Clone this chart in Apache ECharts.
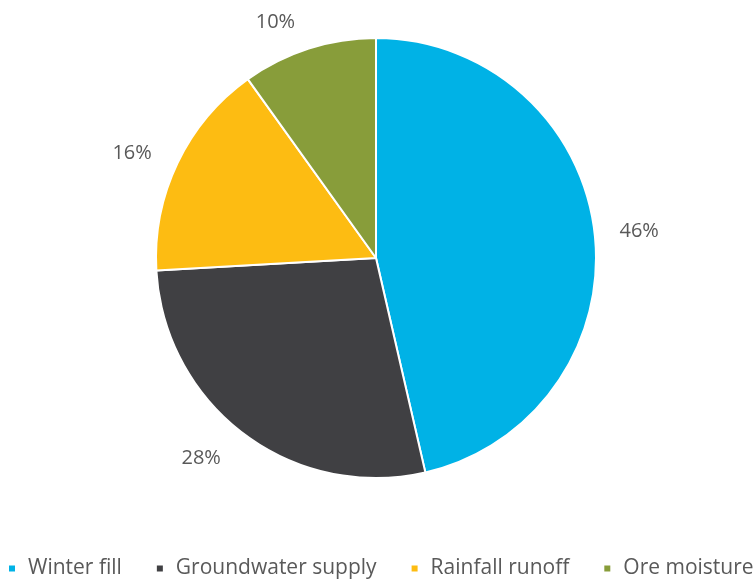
<!DOCTYPE html>
<html><head><meta charset="utf-8">
<script src="https://cdn.jsdelivr.net/npm/echarts@6/dist/echarts.min.js"></script>
<style>html,body{margin:0;padding:0;background:#fff}#c{width:754px;height:583px}</style>
</head><body><div id="c"></div>
<script>
const categories = ['Winter fill', 'Groundwater supply', 'Rainfall runoff', 'Ore moisture'];
const values = [46.4, 27.7, 16.0, 9.9];
const colors = ['#00B2E6', '#404043', '#FDBC12', '#889D3A'];
const labelLineLengths = [20, 30, 23, 28];

const chart = echarts.init(document.getElementById('c'));
chart.setOption({
  animation: false,
  color: colors,
  legend: {
    bottom: 4,
    left: 7,
    width: 747,
    padding: 0,
    icon: 'rect',
    itemWidth: 8,
    itemHeight: 8,
    itemGap: 33,
    textStyle: { color: '#595959', fontSize: 21, fontFamily: 'Open Sans', padding: [0, 0, 0, 7] },
    data: categories
  },
  series: [{
    type: 'pie',
    center: [376, 258],
    radius: 220,
    startAngle: 90,
    clockwise: true,
    itemStyle: { borderColor: '#fff', borderWidth: 2 },
    label: {
      show: true,
      position: 'outside',
      formatter: p => Math.round(p.value) + '%',
      color: '#595959',
      fontSize: 20,
      fontFamily: 'Open Sans'
    },
    labelLine: { show: false, length: 20, length2: 0 },
    data: categories.map((n, i) => ({
      name: n,
      value: values[i],
      labelLine: { show: false, length: labelLineLengths[i], length2: 0 }
    }))
  }]
});
</script></body></html>
